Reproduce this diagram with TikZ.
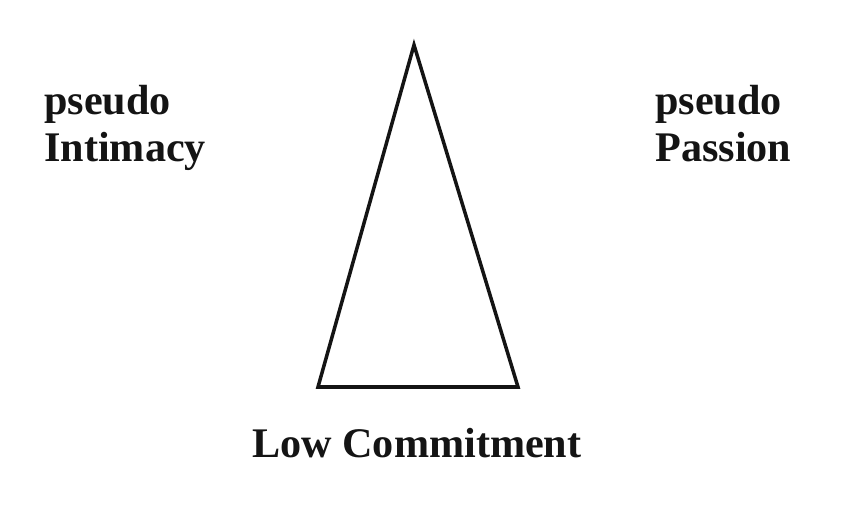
\documentclass[tikz,border=0pt]{standalone}
\usepackage{fontspec}
\setmainfont{Liberation Serif}
\usetikzlibrary{positioning}
\definecolor{inkBlack}{RGB}{20,20,20}

\begin{document}
\begin{tikzpicture}[x=0.02cm,y=-0.02cm,
    corner/.style={font=\fontsize{24}{27}\selectfont\bfseries,text=inkBlack,
      align=left,inner sep=0pt}]
      \useasboundingbox (0,0) rectangle (865,520);
      % triangle
      \coordinate (apex)  at (414,45);
      \coordinate (left)  at (318,387);
      \coordinate (right) at (518,387);
      \draw[inkBlack,line width=2pt,line join=miter] (apex)--(left)--(right)--cycle;
      % labels
      \node[corner,anchor=base west] (intimacy) at (44,162) {pseudo\\Intimacy};
      \node[corner,anchor=base west] (passion) at (655,162) {pseudo\\Passion};
      \node[corner,anchor=base west] (commit) at (252,457) {Low Commitment};
\end{tikzpicture}
\end{document}
